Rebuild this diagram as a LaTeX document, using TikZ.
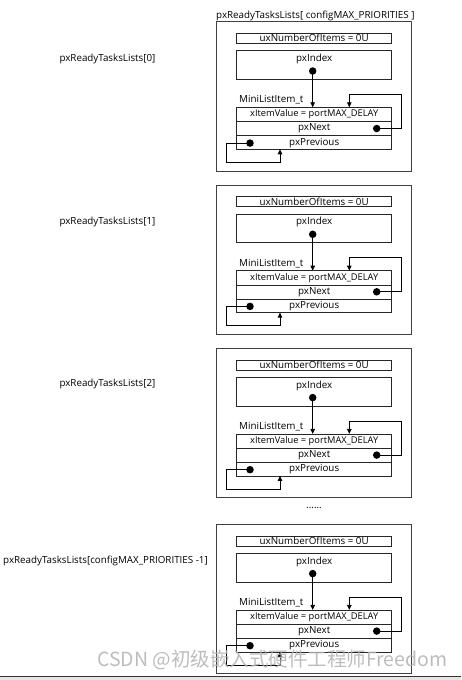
\documentclass[tikz,border=0pt]{standalone}
\usepackage{fontspec}
\setmainfont{Open Sans}
\newfontfamily\cjkfont{Noto Sans CJK SC}
\usetikzlibrary{arrows.meta,calc}
\begin{document}
\begin{tikzpicture}[x=1pt,y=-1pt,
  txt/.style={font=\fontsize{9.8}{11}\selectfont, inner sep=0pt, text=black},
  outerbox/.style={draw=black!75, line width=1pt},
  fieldbox/.style={draw=black!85, line width=0.8pt},
  dotnode/.style={circle, fill=black, minimum size=7.5pt, inner sep=0pt},
  conn/.style={draw=black, line width=0.8pt},
  tip/.style={-{Triangle[length=5pt,width=4.5pt]}}
]
\useasboundingbox (0,0) rectangle (461,680);
\fill[white] (0,0) rectangle (461,680);

\node[txt, anchor=west] (title) at (216,15.7) {pxReadyTasksLists[ configMAX\_PRIORITIES ]};

\foreach \n/\T in {a/21.7, b/185, c/348.3, d/524.3} {
  \draw[outerbox] (216,\T) rectangle (411,\T+149.5);
  \coordinate (\n-o) at (216,\T);
  % uxNumberOfItems
  \draw[fieldbox] (236.7,\T+11.6) rectangle (391.7,\T+21.6);
  \node[txt] (\n-ux) at (314.2,\T+16.4) {uxNumberOfItems = 0U};
  % pxIndex
  \draw[fieldbox] (236.7,\T+29) rectangle (391.7,\T+57.6);
  \node[txt] (\n-idx) at (314.2,\T+37.2) {pxIndex};
  \node[dotnode] (\n-idxdot) at (312.7,\T+49.3) {};
  % MiniListItem
  \node[txt, anchor=west] (\n-mli) at (239,\T+78.3) {MiniListItem\_t};
  \draw[fieldbox] (236.7,\T+85.6) rectangle (391.7,\T+127.6);
  \draw[fieldbox] (236.7,\T+100) -- (391.7,\T+100);
  \draw[fieldbox] (236.7,\T+114) -- (391.7,\T+114);
  \node[txt, font=\fontsize{9.3}{10}\selectfont] (\n-val) at (314.2,\T+92.8) {xItemValue = portMAX\_DELAY};
  \node[txt] (\n-next) at (314.2,\T+106.8) {pxNext};
  \node[txt] (\n-prev) at (314.2,\T+121) {pxPrevious};
  \node[dotnode] (\n-nextdot) at (376.7,\T+106.8) {};
  \node[dotnode] (\n-prevdot) at (250,\T+121.4) {};
  \coordinate (\n-itop) at (312.7,\T+85.6);
  \coordinate (\n-nr) at (401,\T+72.6);
  \coordinate (\n-na) at (349.3,\T+85.6);
  \coordinate (\n-pl) at (226.7,\T+140.6);
  \coordinate (\n-pa) at (280,\T+127.6);
  \draw[conn, tip] (\n-idxdot.center) -- (\n-itop);
  \draw[conn, tip] (\n-nextdot.center) -| (\n-nr) -| (\n-na);
  \draw[conn, tip] (\n-prevdot.center) -| (\n-pl) -| (\n-pa);
}

\node[txt, anchor=west] (l0) at (59.3,59) {pxReadyTasksLists[0]};
\node[txt, anchor=west] (l1) at (59.3,221.5) {pxReadyTasksLists[1]};
\node[txt, anchor=west] (l2) at (59.3,384) {pxReadyTasksLists[2]};
\node[txt, anchor=west] (l3) at (3,561.3) {pxReadyTasksLists[configMAX\_PRIORITIES -1]};
\node[txt] (dots) at (314,508) {......};

% watermark
\node[inner sep=0pt, anchor=west, text=black!30, opacity=0.85, font=\cjkfont\fontsize{19.5}{22}\selectfont] (wm) at (97,660) {CSDN @初级嵌入式硬件工程师Freedom};

% bottom edge of screenshot
\fill[black!10] (0,677) rectangle (461,680);
\draw[black!80, line width=0.8pt] (0,676.8) -- (461,676.8);
\end{tikzpicture}
\end{document}
